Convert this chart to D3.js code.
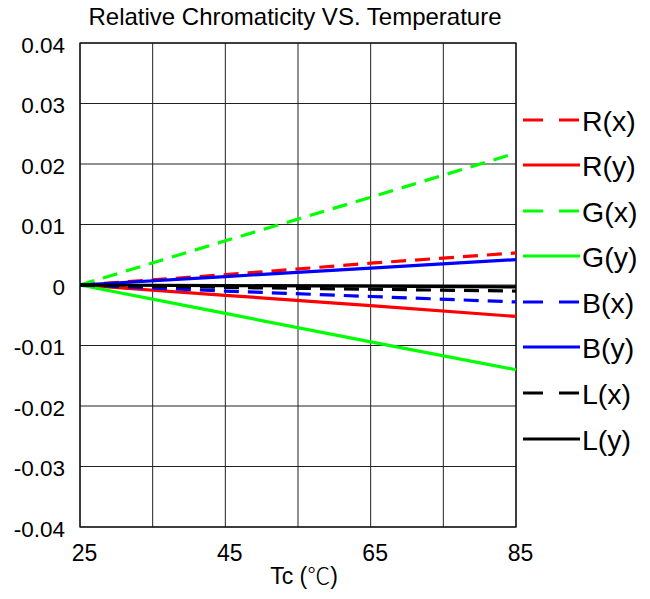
<!DOCTYPE html>
<html>
<head>
<meta charset="utf-8">
<script src="https://cdn.jsdelivr.net/npm/d3@7"></script>
<style>
  body { margin: 0; background: #fff; }
  text { font-family: "Liberation Sans", Arial, sans-serif; fill: #000; }
</style>
</head>
<body>
<div id="chart"></div>
<script>
// temperatures (Tc, degC)
var temps = [25, 45, 65, 85];
// relative chromaticity shift per series
var rx = [0, 0.0017, 0.0036, 0.0053];
var ry = [0, -0.0017, -0.0034, -0.0052];
var gx = [0, 0.0073, 0.0145, 0.0218];
var gy = [0, -0.0047, -0.0094, -0.0140];
var bx = [0, -0.0010, -0.0019, -0.0028];
var by = [0, 0.0014, 0.0028, 0.0042];
var lx = [0, -0.0004, -0.0007, -0.0010];
var ly = [0, -0.0001, -0.0002, -0.0003];

var xTicks = [25, 45, 65, 85];
var yTicks = [0.04, 0.03, 0.02, 0.01, 0, -0.01, -0.02, -0.03, -0.04];

var series = [
  {name: "R(x)", vals: rx, color: "#ff0000", dash: true},
  {name: "R(y)", vals: ry, color: "#ff0000", dash: false},
  {name: "G(x)", vals: gx, color: "#00ff00", dash: true},
  {name: "G(y)", vals: gy, color: "#00ff00", dash: false},
  {name: "B(x)", vals: bx, color: "#0000ff", dash: true},
  {name: "B(y)", vals: by, color: "#0000ff", dash: false},
  {name: "L(x)", vals: lx, color: "#000000", dash: true},
  {name: "L(y)", vals: ly, color: "#000000", dash: false}
];
// legend rows (y pos in px)
var legendY = [120, 165, 211, 256, 302, 347, 393, 439];

var W = 650, H = 599;
// plot box (don't call it "top", that's window.top)
var pLeft = 80, pRight = 516, pTop = 43, pBottom = 527;

var svg = d3.select("#chart").append("svg")
  .attr("width", W).attr("height", H);

var x = d3.scaleLinear().domain([25, 85]).range([pLeft, pRight]);
var y = d3.scaleLinear().domain([-0.04, 0.04]).range([pBottom, pTop]);

// title
svg.append("text")
  .attr("x", 295).attr("y", 25)
  .attr("text-anchor", "middle")
  .style("font-size", "24px")
  .text("Relative Chromaticity VS. Temperature");

// grid
svg.append("g").selectAll("line")
  .data(d3.range(25, 86, 10))
  .enter().append("line")
  .attr("x1", d => x(d)).attr("x2", d => x(d))
  .attr("y1", pTop).attr("y2", pBottom)
  .attr("stroke", "#222").attr("stroke-width", 1);

svg.append("g").selectAll("line")
  .data(yTicks)
  .enter().append("line")
  .attr("x1", pLeft).attr("x2", pRight)
  .attr("y1", d => y(d)).attr("y2", d => y(d))
  .attr("stroke", "#222").attr("stroke-width", 1);

svg.append("rect")
  .attr("x", pLeft).attr("y", pTop)
  .attr("width", pRight - pLeft).attr("height", pBottom - pTop)
  .attr("fill", "none").attr("stroke", "#111").attr("stroke-width", 1.3);

// y axis labels
var yAxis = d3.axisLeft(y).tickValues(yTicks)
  .tickFormat(d => d === 0 ? "0" : String(+d.toFixed(2)))
  .tickSize(0).tickPadding(15);
var yg = svg.append("g").attr("transform", "translate(" + pLeft + ",0)").call(yAxis);
yg.select(".domain").remove();
yg.selectAll("text").style("font-size", "22.5px").attr("fill", "#000").attr("dy", "0.42em");

// x axis labels
var xAxis = d3.axisBottom(x).tickValues(xTicks).tickSize(0).tickPadding(18);
var xg = svg.append("g").attr("transform", "translate(4," + pBottom + ")").call(xAxis);
xg.select(".domain").remove();
xg.selectAll("text").style("font-size", "23px").attr("fill", "#000");

var xt = svg.append("text")
  .attr("x", 304).attr("y", 584)
  .attr("text-anchor", "middle")
  .style("font-size", "23px");
xt.append("tspan").text("Tc (");
xt.append("tspan").style("font-family", "'Noto Sans CJK SC', sans-serif").style("font-weight", "300").text("\u2103");
xt.append("tspan").text(")");

// series lines
var line = d3.line()
  .x((d, i) => x(temps[i]))
  .y(d => y(d));

svg.append("g").selectAll("path")
  .data(series)
  .enter().append("path")
  .attr("d", d => line(d.vals))
  .attr("fill", "none")
  .attr("stroke", d => d.color)
  .attr("stroke-width", 3.2)
  .attr("stroke-dasharray", d => d.dash ? "15,9" : null);

// legend
var leg = svg.append("g").selectAll("g")
  .data(series)
  .enter().append("g")
  .attr("transform", (d, i) => "translate(523," + legendY[i] + ")");

leg.append("line")
  .attr("x1", 0).attr("x2", 57)
  .attr("stroke", d => d.color)
  .attr("stroke-width", 3.2)
  .attr("stroke-dasharray", d => d.dash ? "20,16" : null);

leg.append("text")
  .attr("x", 59).attr("y", 11)
  .style("font-size", "28.5px")
  .text(d => d.name);
</script>
</body>
</html>
